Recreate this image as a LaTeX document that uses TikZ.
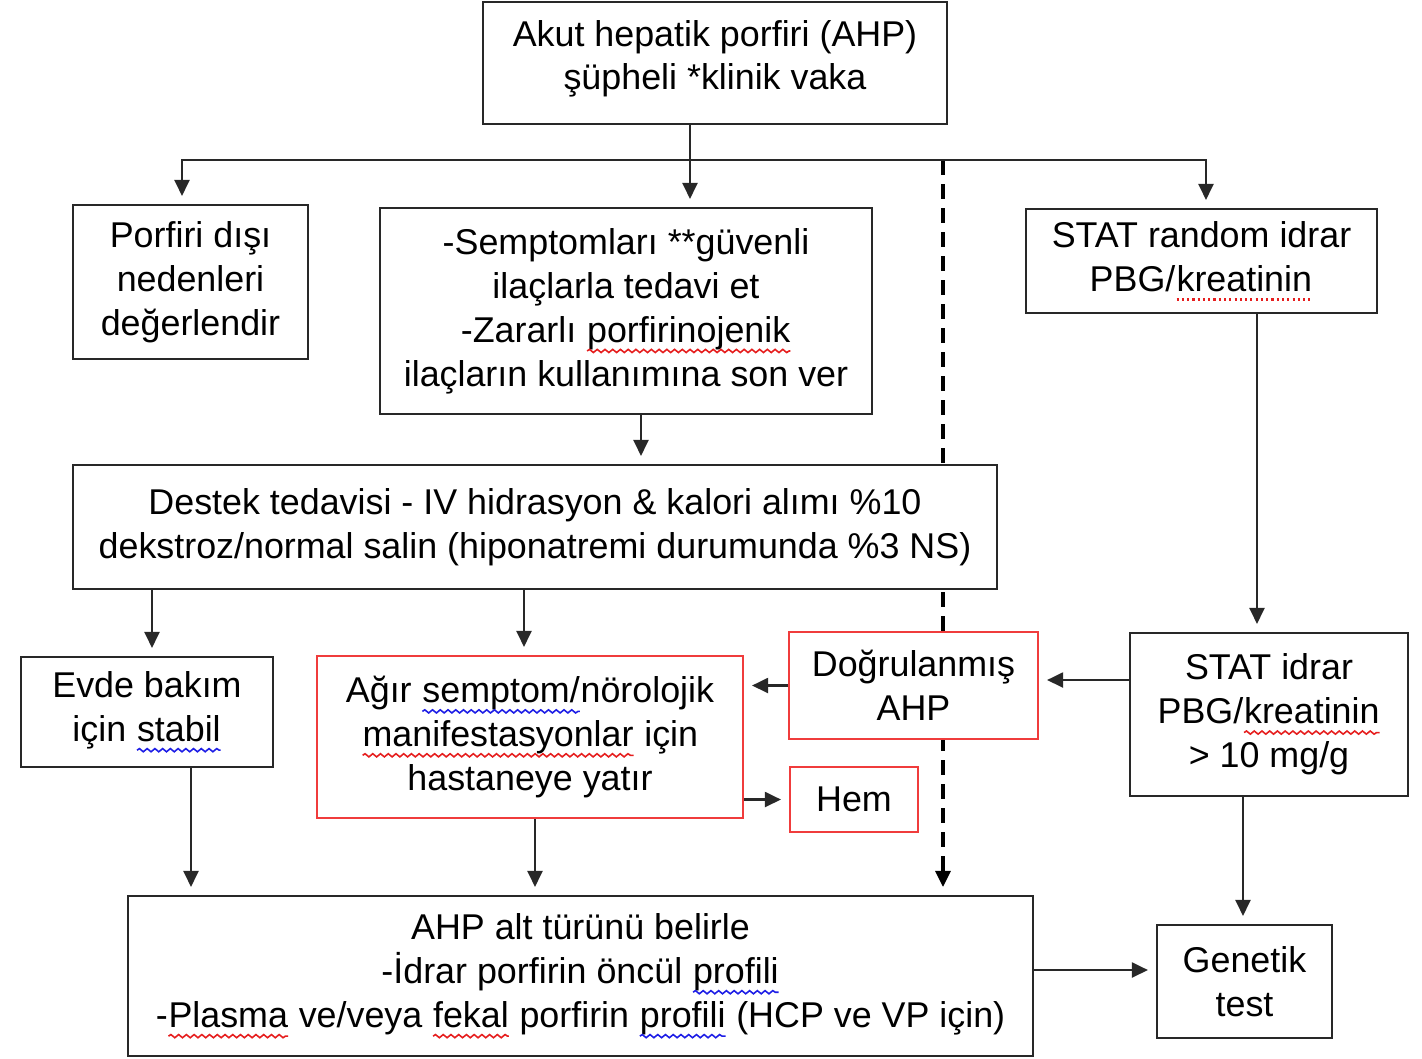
\documentclass[tikz,border=0pt]{standalone}
\usepackage{fontspec}
\setmainfont{Liberation Sans}
\usepackage{xcolor}
\usepackage{tikz}
\usetikzlibrary{positioning,arrows.meta,backgrounds,decorations.pathmorphing}
\definecolor{boxline}{RGB}{40,40,40}
\definecolor{boxred}{RGB}{240,60,60}
\definecolor{spellred}{RGB}{230,30,30}
\definecolor{spellblue}{RGB}{30,30,230}
\tikzset{
    spellword/.style={draw=none, fill=none, inner sep=0pt, outer sep=0pt, minimum width=0pt, minimum height=0pt},
    wavy/.style={draw=#1, line width=0.45pt, decorate, decoration={snake, amplitude=0.45pt, segment length=2.2pt}}
}
\newcommand\redwave[1]{\tikz[baseline=(w.base)]{\node[spellword] (w) {#1}; \draw[wavy=spellred] ([yshift=-2.5pt]w.base west) -- ([yshift=-2.5pt]w.base east);}}
\newcommand\bluewave[1]{\tikz[baseline=(w.base)]{\node[spellword] (w) {#1}; \draw[wavy=spellblue] ([yshift=-2.5pt]w.base west) -- ([yshift=-2.5pt]w.base east);}}
\newcommand\reddots[1]{\tikz[baseline=(w.base)]{\node[spellword] (w) {#1}; \draw[draw=spellred, line width=0.7pt, dash pattern=on 0.6pt off 0.9pt] ([yshift=-2.3pt]w.base west) -- ([yshift=-2.3pt]w.base east);}}

\begin{document}
\begin{tikzpicture}[x=1cm, y=1cm]
    % Define styles
    \tikzstyle{box} = [rectangle, draw=boxline, line width=0.6pt, fill=white, align=center, inner sep=0pt, font=\fontsize{10.2}{12.5}\selectfont]
    \tikzstyle{redbox} = [box, draw=boxred]
    \tikzstyle{arr} = [-{Triangle[length=1.6mm, width=1.5mm]}, draw=boxline, line width=0.6pt, shorten >=0.8mm]
    \tikzstyle{dashline} = [arr, dash pattern=on 1.5mm off 0.9mm, line width=0.9pt, draw=black]

    \useasboundingbox (0,0) rectangle (14.22,-10.58);

    % Boxes
    \node [box, minimum width=4.64cm, minimum height=1.22cm, text depth=0.16cm] (suspect) at (7.15,-0.63) {Akut hepatik porfiri (AHP)\\ şüpheli *klinik vaka};
    \node [box, minimum width=2.35cm, minimum height=1.54cm] (other) at (1.905,-2.82) {Porfiri dışı\\ nedenleri\\ değerlendir};
    \node [box, minimum width=4.92cm, minimum height=2.06cm] (treat) at (6.26,-3.11) {-Semptomları **güvenli\\ ilaçlarla tedavi et\\ -Zararlı \redwave{porfirinojenik}\\ ilaçların kullanımına son ver};
    \node [box, minimum width=3.51cm, minimum height=1.04cm] (random) at (12.015,-2.61) {STAT random idrar\\ PBG/\reddots{kreatinin}};
    \node [box, minimum width=9.24cm, minimum height=1.24cm] (support) at (5.35,-5.27) {Destek tedavisi - IV hidrasyon \& kalori alımı \%10\\ dekstroz/normal salin (hiponatremi durumunda \%3 NS)};
    \node [box, minimum width=2.52cm, minimum height=1.10cm] (home) at (1.47,-7.12) {Evde bakım\\ için \bluewave{stabil}};
    \node [redbox, minimum width=4.26cm, minimum height=1.62cm] (hospital) at (5.30,-7.37) {Ağır \bluewave{semptom/}nörolojik\\ \redwave{manifestasyonlar} için\\ hastaneye yatır};
    \node [redbox, minimum width=2.49cm, minimum height=1.07cm] (confirmed) at (9.135,-6.855) {Doğrulanmış\\ AHP};
    \node [box, minimum width=2.78cm, minimum height=1.63cm] (urine) at (12.69,-7.145) {STAT idrar\\ PBG/\redwave{kreatinin}\\ > 10 mg/g};
    \node [redbox, minimum width=1.28cm, minimum height=0.65cm] (hem) at (8.54,-7.995) {Hem};
    \node [box, minimum width=9.05cm, minimum height=1.60cm] (subtype) at (5.805,-9.76) {AHP alt türünü belirle\\ -İdrar porfirin öncül \bluewave{profili}\\ -\redwave{Plasma} ve/veya \redwave{fekal} porfirin \bluewave{profili} (HCP ve VP için)};
    \node [box, minimum width=1.75cm, minimum height=1.13cm] (genetic) at (12.445,-9.815) {Genetik\\ test};

    \coordinate (split) at (6.90,-1.60);
    \coordinate (dashtop) at (9.43,-1.60);

    % Dashed path behind the boxes
    \begin{scope}[on background layer]
        \draw [dashline] (dashtop) -- (dashtop |- subtype.north);
    \end{scope}

    % Arrows
    \draw [draw=boxline, line width=0.6pt] (suspect.south -| split) -- (split);
    \draw [arr] (split) -| ([xshift=-0.85mm]other.north);
    \draw [arr] (split) -| ([xshift=0.45mm]random.north);
    \draw [arr] (split) -- (treat.north -| split);
    \draw [arr] ([xshift=1.5mm]treat.south) -- ([xshift=1.5mm]treat.south |- support.north);
    \draw [arr] ([xshift=0.5mm]home.north |- support.south) -- ([xshift=0.5mm]home.north);
    \draw [arr] ([xshift=-0.6mm]hospital.north |- support.south) -- ([xshift=-0.6mm]hospital.north);
    \draw [arr] ([xshift=5.55mm]random.south) -- ([xshift=5.55mm]random.south |- urine.north);
    \draw [arr] ([yshift=3.45mm]urine.west) -- ([yshift=3.45mm]urine.west -| confirmed.east);
    \draw [arr] (confirmed.west) -- (confirmed.west -| hospital.east);
    \draw [arr] (hem.west -| hospital.east) -- (hem.west);
    \draw [arr] ([xshift=4.4mm]home.south) -- ([xshift=4.4mm]home.south |- subtype.north);
    \draw [arr] ([xshift=0.5mm]hospital.south) -- ([xshift=0.5mm]hospital.south |- subtype.north);
    \draw [arr] ([xshift=-2.6mm]urine.south) -- ([xshift=-2.6mm]urine.south |- genetic.north);
    \draw [arr] ([yshift=0.6mm]subtype.east) -- ([yshift=0.6mm]subtype.east -| genetic.west);
\end{tikzpicture}
\end{document}
